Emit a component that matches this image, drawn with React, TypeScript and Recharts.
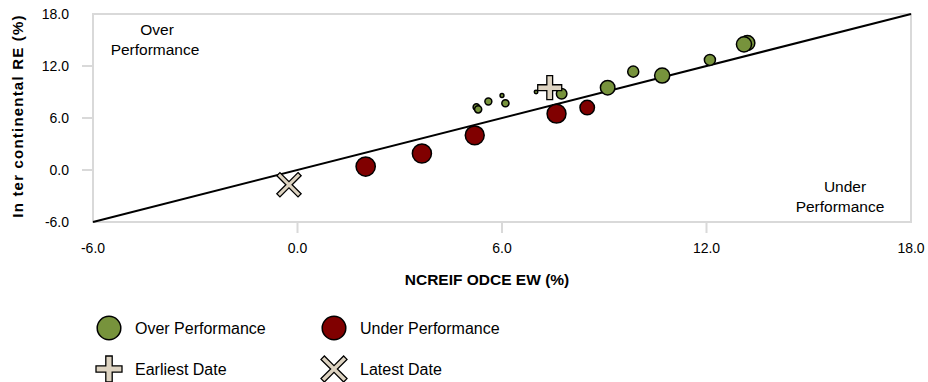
import React from 'react';
import {
  ScatterChart, Scatter, XAxis, YAxis, ZAxis, ReferenceLine, ReferenceArea,
} from 'recharts';

if (typeof document !== 'undefined') {
  document.body.style.margin = '0';
}

// ---- data ----
const axisTicks = [-6, 0, 6, 12, 18];

const overX = [5.25, 5.3, 5.6, 6.0, 6.1, 7.0, 7.75, 9.1, 9.85, 10.7, 12.1, 13.2, 13.1];
const overY = [7.25, 7.0, 7.9, 8.6, 7.7, 9.0, 8.8, 9.5, 11.35, 10.9, 12.7, 14.65, 14.5];
const overZ = [12, 14, 13, 4, 14, 3.3, 30, 57, 33, 62, 33, 60, 62];

const underX = [2.0, 3.65, 5.2, 7.6, 8.5];
const underY = [0.4, 1.9, 4.0, 6.5, 7.2];
const underZ = [100, 99, 97, 97, 57];

const earliestX = [7.4];
const earliestY = [9.5];
const latestX = [-0.25];
const latestY = [-1.7];

const legendLabels = ['Over Performance', 'Under Performance', 'Earliest Date', 'Latest Date'];

const GREEN = '#77933c';
const RED = '#800000';
const BEIGE = '#ddd3c1';
const FONT = '"Liberation Sans", Arial, sans-serif';

const overData = overX.map((x, i) => ({ x, y: overY[i], z: overZ[i] }));
const underData = underX.map((x, i) => ({ x, y: underY[i], z: underZ[i] }));
const earliestData = earliestX.map((x, i) => ({ x, y: earliestY[i], z: 1 }));
const latestData = latestX.map((x, i) => ({ x, y: latestY[i], z: 1 }));

const plusPath = (cx: number, cy: number, L: number, t: number) =>
  `M${cx - t},${cy - L}H${cx + t}V${cy - t}H${cx + L}V${cy + t}H${cx + t}V${cy + L}H${cx - t}V${cy + t}H${cx - L}V${cy - t}H${cx - t}Z`;

const PlusShape = (props: any) => {
  const { cx, cy } = props;
  if (cx == null || cy == null) return null;
  return <path d={plusPath(cx, cy, 12, 2.9)} fill={BEIGE} stroke="#000" strokeWidth={1.3} />;
};

const CrossShape = (props: any) => {
  const { cx, cy } = props;
  if (cx == null || cy == null) return null;
  return (
    <path
      d={plusPath(cx, cy, 15, 2.2)}
      transform={`rotate(45 ${cx} ${cy})`}
      fill={BEIGE}
      stroke="#000"
      strokeWidth={1.3}
    />
  );
};

const XTick = (props: any) => {
  const { x, y, payload } = props;
  const v = payload.value;
  const inner = v !== axisTicks[0] && v !== axisTicks[axisTicks.length - 1];
  return (
    <g>
      {inner && <line x1={x} x2={x} y1={y + 1} y2={y + 11} stroke="#d9d9d9" strokeWidth={2} />}
      <text x={x} y={y + 31} textAnchor="middle" fontSize={14} fontFamily={FONT} fill="#000">
        {Number(v).toFixed(1)}
      </text>
    </g>
  );
};

const YTick = (props: any) => {
  const { x, y, payload } = props;
  const v = payload.value;
  const inner = v !== axisTicks[0] && v !== axisTicks[axisTicks.length - 1];
  return (
    <g>
      {inner && <line x1={x - 11} x2={x - 1} y1={y} y2={y} stroke="#d9d9d9" strokeWidth={2} />}
      <text x={x - 24} y={y + 5} textAnchor="end" fontSize={14} fontFamily={FONT} fill="#000">
        {Number(v).toFixed(1)}
      </text>
    </g>
  );
};

export default function App() {
  return (
    <div style={{ position: 'relative', width: 928, height: 382, background: '#fff', fontFamily: FONT }}>
      <ScatterChart width={928} height={382} margin={{ top: 14, right: 17, bottom: 130, left: 0 }}>
        <XAxis
          type="number"
          dataKey="x"
          domain={[-6, 18]}
          ticks={axisTicks}
          axisLine={false}
          tickLine={false}
          tickSize={0}
          tickMargin={0}
          height={30}
          tick={XTick}
          interval={0}
        />
        <YAxis
          type="number"
          dataKey="y"
          domain={[-6, 18]}
          ticks={axisTicks}
          axisLine={false}
          tickLine={false}
          tickSize={0}
          tickMargin={0}
          width={93}
          tick={YTick}
          interval={0}
        />
        <ZAxis type="number" dataKey="z" domain={[0, 100]} range={[0, 289.5]} />
        <ReferenceArea x1={-6} x2={18} y1={-6} y2={18} fill="none" fillOpacity={0} stroke="#d9d9d9" strokeWidth={2} />
        <Scatter data={underData} fill={RED} stroke="#000" strokeWidth={1.5} isAnimationActive={false} />
        <Scatter data={overData} fill={GREEN} stroke="#000" strokeWidth={1.5} isAnimationActive={false} />
        <Scatter data={earliestData} shape={PlusShape} isAnimationActive={false} />
        <Scatter data={latestData} shape={CrossShape} isAnimationActive={false} />
        <ReferenceLine
          segment={[{ x: -6, y: -6 }, { x: 18, y: 18 }]}
          stroke="#000"
          strokeWidth={2}
        />
      </ScatterChart>
      <svg
        width={928}
        height={382}
        style={{ position: 'absolute', left: 0, top: 0, pointerEvents: 'none' }}
      >
        <text
          transform="translate(23,116) rotate(-90)"
          textAnchor="middle"
          fontSize={15}
          fontWeight="bold"
          fontFamily={FONT}
          letterSpacing={1.2}
        >
          In ter continental RE (%)
        </text>
        <text x={487} y={285} textAnchor="middle" fontSize={15.5} fontWeight="bold" fontFamily={FONT}>
          NCREIF ODCE EW (%)
        </text>
        <text textAnchor="middle" fontSize={15.5} fontFamily={FONT}>
          <tspan x={157} y={35}>Over</tspan>
          <tspan x={155} y={55}>Performance</tspan>
        </text>
        <text textAnchor="middle" fontSize={15.5} fontFamily={FONT}>
          <tspan x={845} y={192}>Under</tspan>
          <tspan x={840} y={212}>Performance</tspan>
        </text>
        {/* legend */}
        <circle cx={109} cy={328} r={11.8} fill={GREEN} stroke="#000" strokeWidth={1.5} />
        <text x={135} y={334} fontSize={16} fontFamily={FONT}>{legendLabels[0]}</text>
        <circle cx={334} cy={328} r={11.8} fill={RED} stroke="#000" strokeWidth={1.5} />
        <text x={360} y={334} fontSize={16} fontFamily={FONT}>{legendLabels[1]}</text>
        <path d={plusPath(109, 369, 13, 3.2)} fill={BEIGE} stroke="#000" strokeWidth={1.3} />
        <text x={135} y={375} fontSize={16} fontFamily={FONT}>{legendLabels[2]}</text>
        <path d={plusPath(334, 369, 16, 2.4)} transform="rotate(45 334 369)" fill={BEIGE} stroke="#000" strokeWidth={1.3} />
        <text x={360} y={375} fontSize={16} fontFamily={FONT}>{legendLabels[3]}</text>
      </svg>
    </div>
  );
}
